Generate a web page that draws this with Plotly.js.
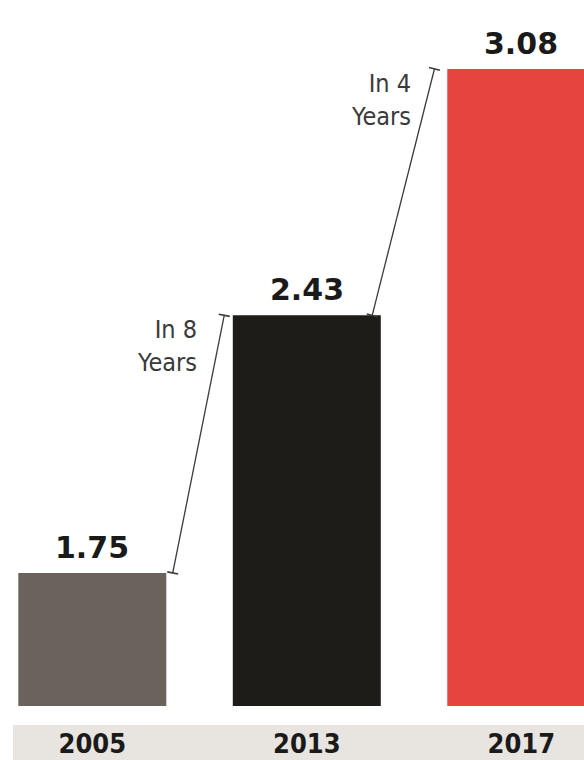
<!DOCTYPE html>
<html>
<head>
<meta charset="utf-8">
<script src="https://cdn.plot.ly/plotly-3.0.1.min.js"></script>
<style>html,body{margin:0;padding:0;background:#fff;}#chart{width:584px;height:760px;}</style>
</head>
<body>
<div id="chart"></div>
<script>
// ---- data ----
const years = ['2005', '2013', '2017'];
const values = [1.75, 2.43, 3.08];
const spanLabels = ['In 8<br>Years', 'In 4<br>Years'];
const barColors = ['#6b625c', '#1e1c19', '#e5443f'];

// ---- layout constants (style) ----
const W = 584, H = 760, MB = 54;
const plotH = H - MB;
const xRange = [-0.4303, 2.2923];
const yRange = [1.399, 3.262];
const bargap = 0.31;
const hw = (1 - bargap) / 2;
const idx = years.map((_, i) => i);

function px(x) { return (x - xRange[0]) / (xRange[1] - xRange[0]) * W; }
function py(v) { return plotH - (v - yRange[0]) / (yRange[1] - yRange[0]) * plotH; }

const traces = [{
  type: 'bar',
  x: idx,
  y: values,
  marker: { color: barColors },
  hoverinfo: 'none'
}];

// connector lines with end caps
const offs = [[0.03, 0.04], [-0.04, 0.06]];
for (let k = 0; k < values.length - 1; k++) {
  const x0 = idx[k] + hw + offs[k][0];
  const x1 = idx[k + 1] - hw - offs[k][1];
  const y0 = values[k], y1 = values[k + 1];
  const ang = Math.atan2(py(y1) - py(y0), px(x1) - px(x0)) * 180 / Math.PI + 90;
  traces.push({
    type: 'scatter',
    mode: 'lines+markers',
    x: [x0, x1],
    y: [y0, y1],
    line: { color: '#3a3a3a', width: 1.3 },
    marker: { symbol: 'line-ew', size: 8, angle: [ang, ang], color: '#3a3a3a', line: { color: '#3a3a3a', width: 1.6 } },
    hoverinfo: 'none'
  });
}

const annotations = [];
values.forEach((v, i) => {
  annotations.push({
    x: idx[i], y: v, xref: 'x', yref: 'y',
    text: v.toFixed(2), showarrow: false,
    yanchor: 'bottom', yshift: 6,
    font: { family: 'DejaVu Sans', size: 30, color: '#1a1a1a', weight: 'bold' }
  });
});
spanLabels.forEach((t, k) => {
  annotations.push({
    x: idx[k + 1] - hw, y: values[k + 1], xref: 'x', yref: 'y',
    text: t, showarrow: false, align: 'right',
    xanchor: 'right', yanchor: 'top', xshift: -34, yshift: 2,
    font: { family: 'DejaVu Sans Condensed', size: 25, color: '#3a3a3a' }
  });
});

const layout = {
  width: W, height: H,
  margin: { l: 0, r: 0, t: 0, b: MB, pad: 0 },
  paper_bgcolor: '#ffffff',
  plot_bgcolor: '#ffffff',
  showlegend: false,
  bargap: bargap,
  xaxis: {
    range: xRange, tickvals: idx, ticktext: years,
    showgrid: false, zeroline: false, showline: false,
    ticks: 'outside', ticklen: 14, tickcolor: 'rgba(0,0,0,0)',
    tickfont: { family: 'DejaVu Sans Condensed', size: 27, color: '#1a1a1a', weight: 'bold' },
    fixedrange: true
  },
  yaxis: {
    range: yRange, visible: false, showgrid: false, zeroline: false, fixedrange: true
  },
  shapes: [{
    type: 'rect', xref: 'paper', yref: 'paper', layer: 'below',
    x0: 13 / W, x1: 1, y0: (plotH - 760) / plotH, y1: (plotH - 725) / plotH,
    fillcolor: '#e8e4e0', line: { width: 0 }
  }],
  annotations: annotations
};

Plotly.newPlot('chart', traces, layout, { displayModeBar: false, staticPlot: true });
</script>
</body>
</html>
